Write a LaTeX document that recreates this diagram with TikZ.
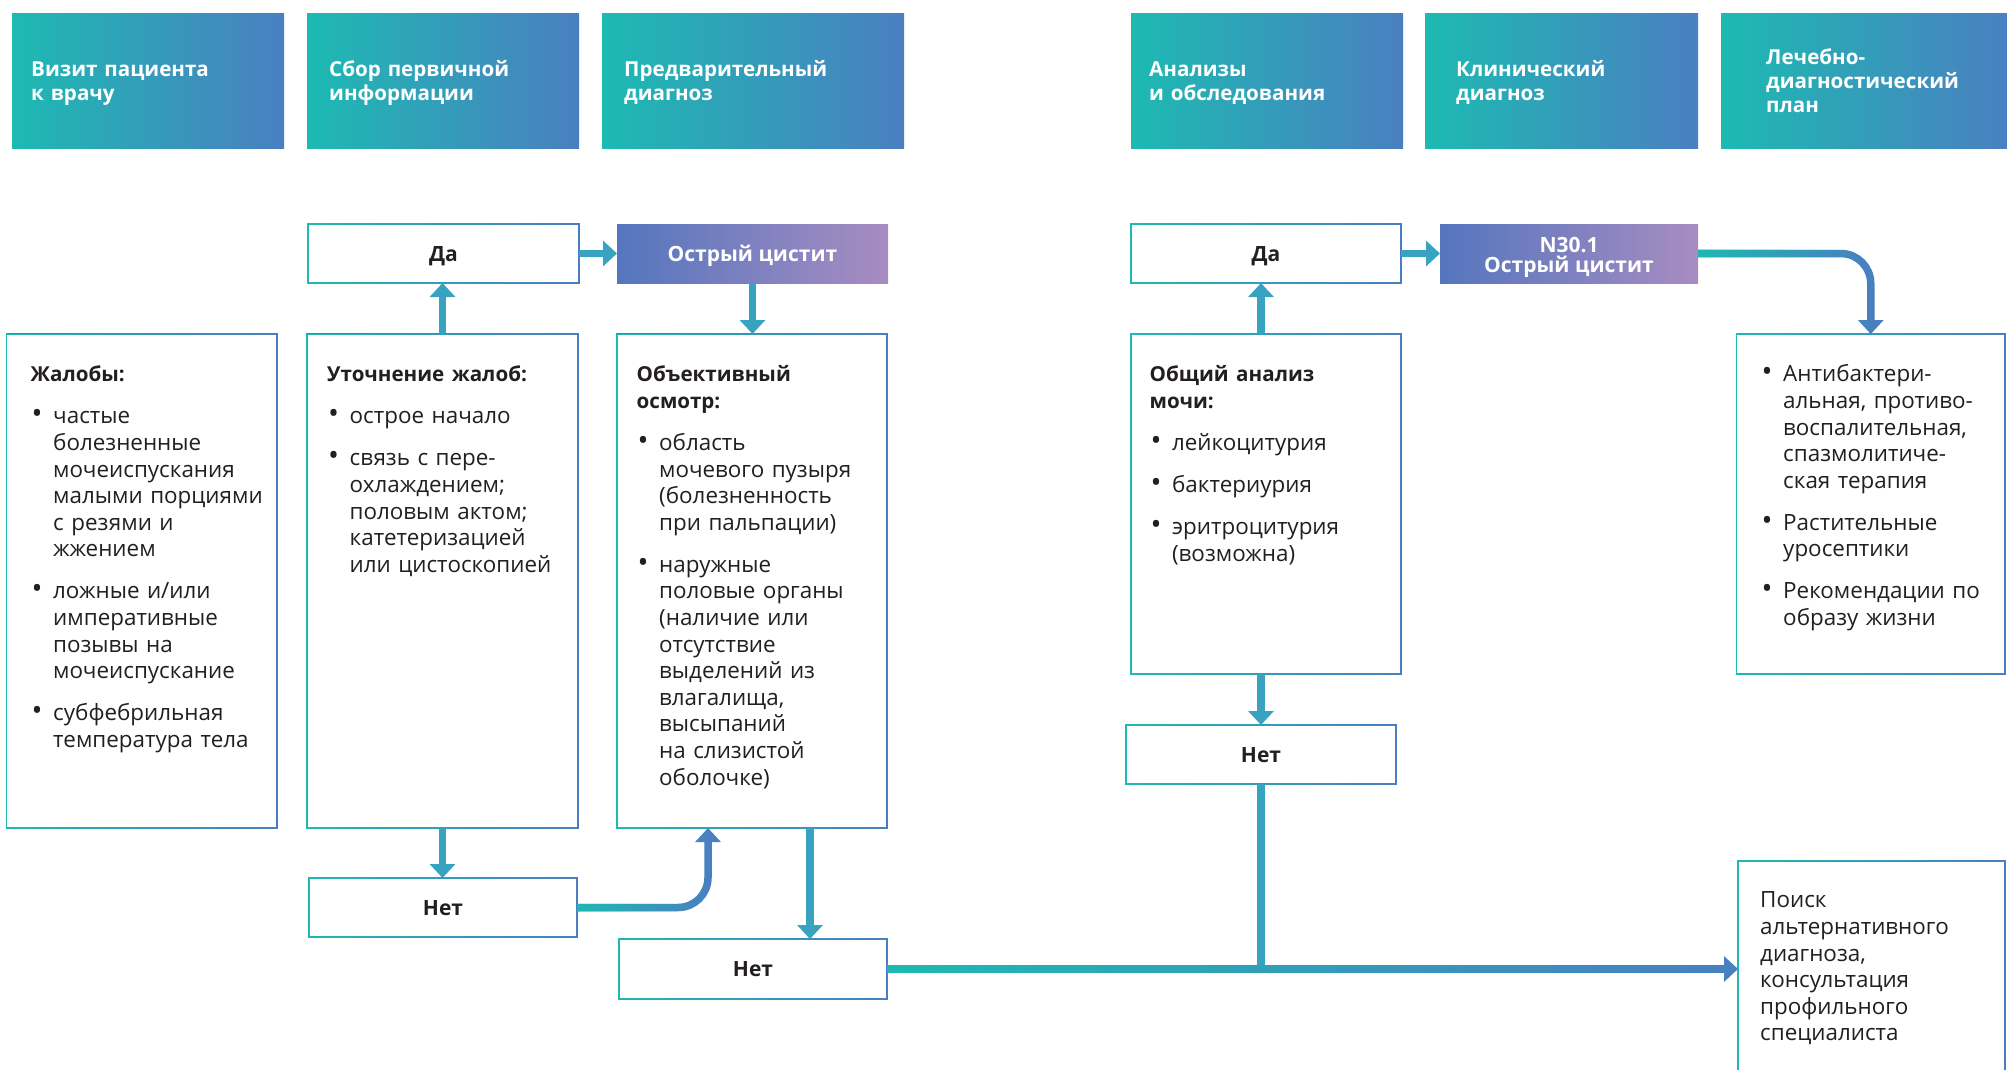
\documentclass[tikz,border=0pt]{standalone}
\usepackage{fontspec}
\setmainfont{Open Sans}
\usetikzlibrary{arrows.meta,fadings}
\definecolor{tealc}{HTML}{1DBAB2}
\definecolor{bluec}{HTML}{4A7FC1}
\definecolor{arrowc}{HTML}{38A3C0}
\definecolor{violetl}{HTML}{5476BE}
\definecolor{violetr}{HTML}{A88CC1}
\definecolor{inkc}{HTML}{231F20}
\tikzfading[name=fadeout, left color=transparent!0, right color=transparent!100]
\setlength{\parindent}{0pt}
\newcommand{\bodyfont}{\fontsize{22.4}{26.6}\selectfont}
\newcommand{\bhead}[1]{\noindent{\fontsize{20.6}{26.6}\selectfont\bfseries\strut #1}\par\addvspace{15.4pt}}
\newcommand{\bitem}[1]{\hangindent=22.5pt\hangafter=1\noindent\makebox[22.5pt][l]{\hspace{1pt}\scalebox{1.3}{\textbullet}}\strut #1\par\addvspace{15.4pt}}
\begin{document}
\begin{tikzpicture}[
        x=1pt, y=-1pt,
        link/.style={line width=7.5pt, draw=arrowc, -{Triangle[width=25pt,length=14pt]}},
        gradlink/.style={link, draw=bluec, postaction={draw=tealc, path fading=fadeout}}
    ]
    \tikzset {
        stagehead/.style = {anchor=north west, left color=tealc, right color=bluec, text=white, align=left, minimum height=135pt, inner ysep=0pt, font=\fontsize{20.6}{24}\selectfont\bfseries, execute at begin node={\rule{0pt}{21pt}}, execute at end node={\rule[-6pt]{0pt}{6pt}}},
        infobox/.style = {anchor=north west, draw=bluec, line width=1.5pt, fill=white, inner sep=0pt, outer sep=0pt, postaction={draw=tealc, path fading=fadeout}},
        answer/.style = {infobox, anchor=center, minimum height=59pt, text height=15pt, text depth=0pt, text=inkc, font=\fontsize{21}{21}\selectfont\bfseries},
        diagbox/.style = {left color=violetl, right color=violetr, minimum height=59pt, inner sep=0pt, outer sep=0pt, align=center, text=white, font=\fontsize{21}{20}\selectfont\bfseries},
        boxtext/.style = {anchor=north west, inner sep=0pt, align=left, text width=300pt, text=inkc, font=\bodyfont},
    }
    \useasboundingbox (0,0) rectangle (2007,1070);

    \node[stagehead, text width=234pt, inner xsep=19pt] (visit) at (12,13) {Визит пациента\\к врачу};
    \node[stagehead, text width=228pt, inner xsep=22pt] (history) at (307,13) {Сбор первичной\\информации};
    \node[stagehead, text width=258pt, inner xsep=22pt] (prelim) at (602,13) {Предварительный\\диагноз};
    \node[stagehead, text width=236pt, inner xsep=18pt] (tests) at (1131,13) {Анализы\\и обследования};
    \node[stagehead, text width=211pt, inner xsep=31pt] (clinical) at (1425,13) {Клинический\\диагноз};
    \node[stagehead, text width=200pt, inner xsep=45pt] (plan) at (1721,13) {Лечебно-\\диагностический\\план};

    \node[answer, minimum width=271pt] (da1) at (443.5,253.5) {Да};
    \node[diagbox, minimum width=271pt, text height=15pt, text depth=0pt] (acute1) at (752.5,253.5) {Острый цистит};
    \node[answer, minimum width=270pt] (da2) at (1266,253.5) {Да};
    \node[diagbox, minimum width=258pt, text height=37.5pt, text depth=0pt] (icd) at (1569,253.5) {N30.1\\Острый цистит};

    \node[infobox, minimum width=270.5pt, minimum height=494pt] (complaints) at (6.5,334) {};
    \node[infobox, minimum width=271pt, minimum height=494pt] (clarify) at (307,334) {};
    \node[infobox, minimum width=270pt, minimum height=494pt] (exam) at (617,334) {};
    \node[infobox, minimum width=270pt, minimum height=340pt] (urine) at (1131,334) {};
    \node[infobox, minimum width=268.5pt, minimum height=340pt] (therapy) at (1736.5,334) {};
    \node[infobox, minimum width=267pt, minimum height=240pt] (search) at (1738,861) {};

    \node[answer, minimum width=268.4pt] (net1) at (443,907.5) {Нет};
    \node[answer, minimum width=268.4pt, minimum height=60pt] (net2) at (753,969) {Нет};
    \node[answer, minimum width=270pt] (net3) at (1261,754.5) {Нет};

    \node[boxtext] (complaints-text) at ([shift={(24,29)}]complaints.north west) {%
        \bhead{Жалобы:}
        \bitem{частые\newline болезненные\newline мочеиспускания\newline малыми порциями\newline с резями и\newline жжением}
        \bitem{ложные и/или\newline императивные\newline позывы на\newline мочеиспускание}
        \bitem{субфебрильная\newline температура тела}};
    \node[boxtext] (clarify-text) at ([shift={(20,29)}]clarify.north west) {%
        \bhead{Уточнение жалоб:}
        \bitem{острое начало}
        \bitem{связь с пере-\newline охлаждением;\newline половым актом;\newline катетеризацией\newline или цистоскопией}};
    \node[boxtext] (exam-text) at ([shift={(19.5,29)}]exam.north west) {%
        \bhead{Объективный\newline осмотр:}
        \bitem{область\newline мочевого пузыря\newline (болезненность\newline при пальпации)}
        \bitem{наружные\newline половые органы\newline (наличие или\newline отсутствие\newline выделений из\newline влагалища,\newline высыпаний\newline на слизистой\newline оболочке)}};
    \node[boxtext] (urine-text) at ([shift={(18.4,29)}]urine.north west) {%
        \bhead{Общий анализ\newline мочи:}
        \bitem{лейкоцитурия}
        \bitem{бактериурия}
        \bitem{эритроцитурия\newline (возможна)}};
    \node[boxtext] (therapy-text) at ([shift={(24,29)}]therapy.north west) {%
        \bitem{Антибактери-\newline альная, противо-\newline воспалительная,\newline спазмолитиче-\newline ская терапия}
        \bitem{Растительные\newline уросептики}
        \bitem{Рекомендации по\newline образу жизни}};
    \node[boxtext] (search-text) at ([shift={(22,28)}]search.north west) {%
        \strut Поиск\newline альтернативного\newline диагноза,\newline консультация\newline профильного\newline специалиста};

    \draw[link] (clarify.north) -- (clarify.north |- da1.south);
    \draw[link] (da1.east) -- (acute1.west);
    \draw[link] (acute1.south) -- (acute1.south |- exam.north);
    \draw[link] (clarify.south) -- (clarify.south |- net1.north);
    \draw[gradlink, rounded corners=30pt] (net1.east) -| ([xshift=-44pt]exam.south);
    \draw[link] ([xshift=58pt]exam.south) -- ([xshift=58pt]exam.south |- net2.north);
    \draw[link] (urine.north -| net3.north) -- (da2.south -| net3.north);
    \draw[link] (urine.south -| net3.north) -- (net3.north);
    \draw[link, -] (net3.south) -- (net3.south |- net2.east);
    \draw[gradlink] ([yshift=12pt]net2.east) ([yshift=-12pt]net2.east) (net2.east) -- (net2.east -| search.west);
    \draw[link] (da2.east) -- (icd.west);
    \draw[gradlink, rounded corners=30pt] (icd.east) -| (therapy.north);
\end{tikzpicture}
\end{document}
